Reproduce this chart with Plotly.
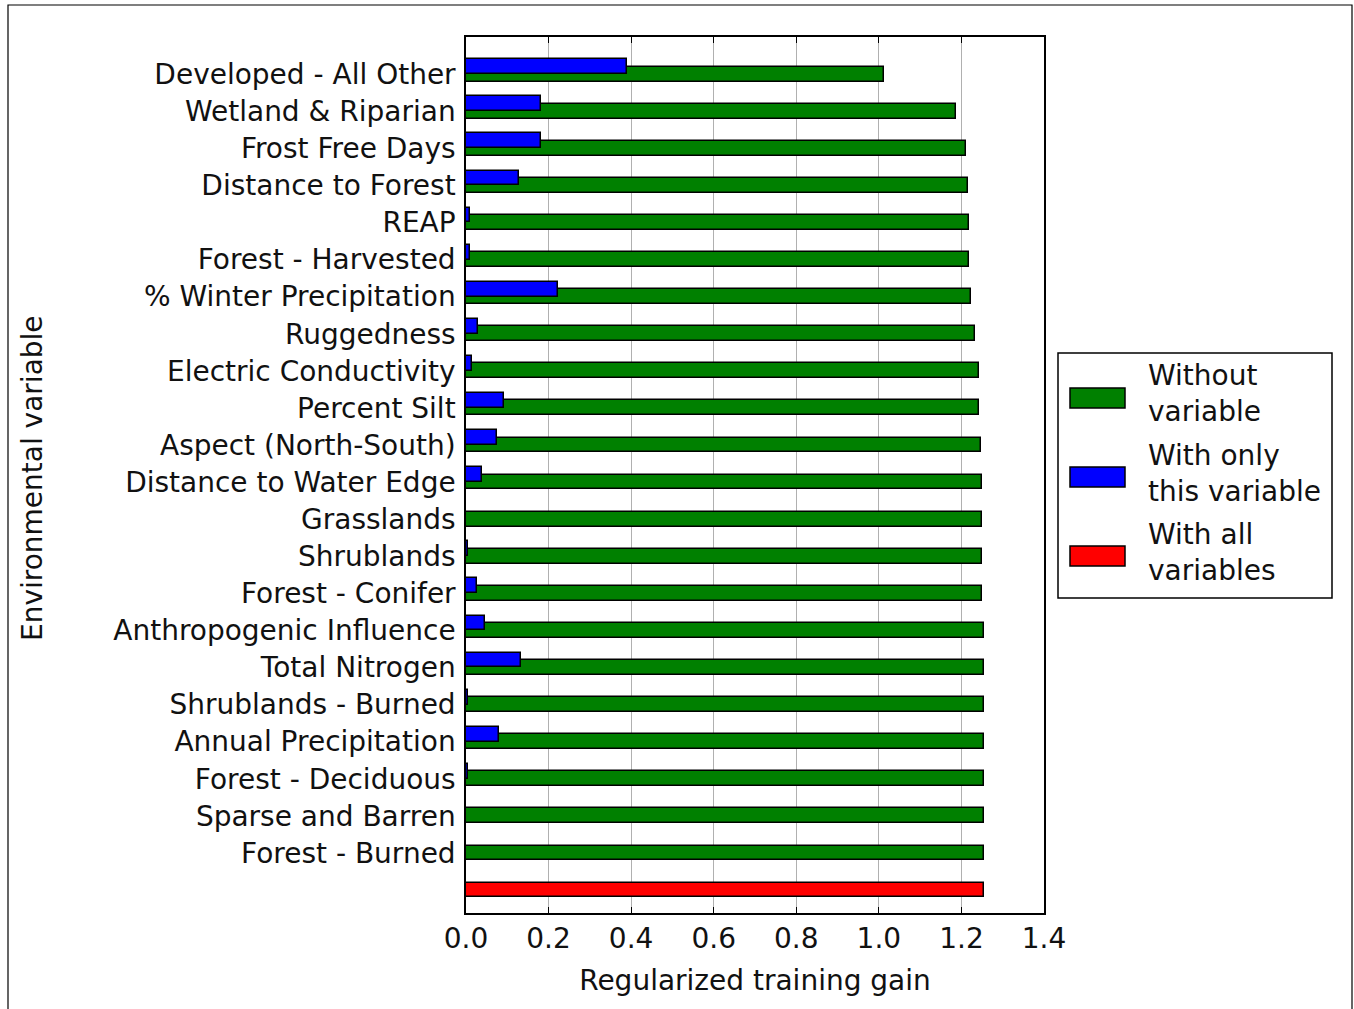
import plotly.graph_objects as go

# ---- data (top to bottom as in the chart) ----
variables = [
    "Developed - All Other", "Wetland & Riparian", "Frost Free Days",
    "Distance to Forest", "REAP", "Forest - Harvested",
    "% Winter Precipitation", "Ruggedness", "Electric Conductivity",
    "Percent Silt", "Aspect (North-South)", "Distance to Water Edge",
    "Grasslands", "Shrublands", "Forest - Conifer", "Anthropogenic Influence",
    "Total Nitrogen", "Shrublands - Burned", "Annual Precipitation",
    "Forest - Deciduous", "Sparse and Barren", "Forest - Burned",
]
without_variable = [
    1.012, 1.187, 1.211, 1.215, 1.219, 1.219, 1.223, 1.232, 1.243, 1.243,
    1.247, 1.251, 1.251, 1.251, 1.251, 1.255, 1.255, 1.255, 1.255, 1.255,
    1.255, 1.255,
]
only_variable = [
    0.389, 0.181, 0.181, 0.128, 0.010, 0.009, 0.222, 0.030, 0.015, 0.091,
    0.075, 0.039, 0.001, 0.004, 0.026, 0.047, 0.132, 0.004, 0.079, 0.004,
    0.001, 0.001,
]
all_variables = 1.255
legend_labels = ["Without<br>variable", "With only<br>this variable", "With all<br>variables"]
x_ticks = [0.0, 0.2, 0.4, 0.6, 0.8, 1.0, 1.2, 1.4]

# positions: red "all variables" row at 0, variables above it
n = len(variables)
pos = [n - i for i in range(n)]

FONT = "DejaVu Sans"
FS = 28
GREEN, BLUE, RED = "#008000", "#0000ff", "#ff0000"
edge = dict(color="black", width=1.5)

fig = go.Figure()
fig.add_trace(go.Bar(y=pos, x=without_variable, orientation="h", width=0.4, offset=-0.2,
                     marker=dict(color=GREEN, line=edge), name="Without variable",
                     showlegend=False))
fig.add_trace(go.Bar(y=pos, x=only_variable, orientation="h", width=0.4, offset=0.0,
                     marker=dict(color=BLUE, line=edge), name="With only this variable",
                     showlegend=False))
fig.add_trace(go.Bar(y=[0], x=[all_variables], orientation="h", width=0.4, offset=-0.2,
                     marker=dict(color=RED, line=edge), name="With all variables",
                     showlegend=False))

W, H = 1354, 1009
L, R, T, B = 466, 1044, 37, 913
pw, ph = R - L, B - T


def px(x):
    return (x - L) / pw


def py(y):
    return (B - y) / ph


fig.update_layout(
    width=W, height=H,
    margin=dict(l=L, r=W - R, t=T, b=H - B, pad=0),
    barmode="overlay",
    plot_bgcolor="white", paper_bgcolor="white",
    font=dict(family=FONT, size=FS, color="#111111"),
    bargap=0,
)
fig.update_xaxes(
    range=[0, 1.4], tickvals=x_ticks, tickformat=".1f",
    showgrid=True, gridcolor="#b0b0b0", gridwidth=1,
    ticks="inside", ticklen=6, tickcolor="black", tickwidth=1,
    showline=True, linecolor="black", linewidth=1.5, mirror="ticks",
    zeroline=False, tickfont=dict(size=FS, family=FONT),
    title=dict(text="Regularized training gain", font=dict(size=FS, family=FONT), standoff=16),
)
fig.update_yaxes(
    range=[-0.62, 23.0], tickvals=pos, ticktext=variables,
    showgrid=False, zeroline=False, ticks="",
    showline=True, linecolor="black", linewidth=1.5, mirror=True,
    tickfont=dict(size=FS, family=FONT), ticklabelstandoff=3,
)

shapes = []
annotations = []
# y-axis title
annotations.append(dict(text="Environmental variable", xref="paper", yref="paper",
                        x=px(32), y=py(478), textangle=-90, showarrow=False,
                        xanchor="center", yanchor="middle", font=dict(size=FS, family=FONT)))
# outer frame
shapes.append(dict(type="rect", xref="paper", yref="paper", x0=px(8), x1=px(1352),
                   y0=py(1030), y1=py(5), line=dict(color="black", width=1.2),
                   fillcolor="rgba(0,0,0,0)", layer="above"))
# custom legend box
shapes.append(dict(type="rect", xref="paper", yref="paper", x0=px(1058), x1=px(1332),
                   y0=py(598), y1=py(353), line=dict(color="black", width=1.5),
                   fillcolor="white"))
for col, lab, sy, ty in zip([GREEN, BLUE, RED], legend_labels, [398, 477, 556], [393, 473, 552]):
    shapes.append(dict(type="rect", xref="paper", yref="paper", x0=px(1070), x1=px(1125),
                       y0=py(sy + 10), y1=py(sy - 10), line=dict(color="black", width=1.5),
                       fillcolor=col))
    annotations.append(dict(text=lab, xref="paper", yref="paper", x=px(1146), y=py(ty),
                            xanchor="left", yanchor="middle", align="left", showarrow=False,
                            font=dict(size=FS, family=FONT)))

fig.update_layout(shapes=shapes, annotations=annotations)
fig.write_html("out.html", config={"displayModeBar": False},
               post_script="document.body.style.margin='0px';")
